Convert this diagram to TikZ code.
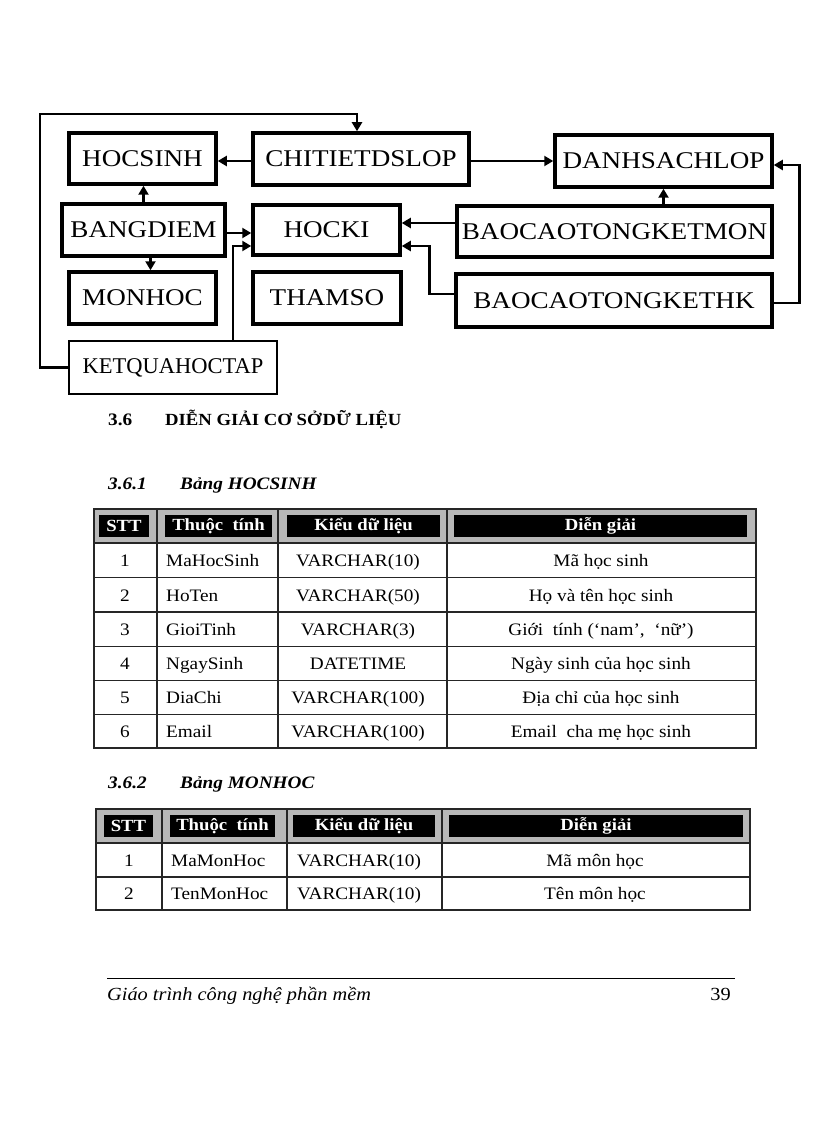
\documentclass[tikz,border=0pt]{standalone}
\usepackage{fontspec}
\setmainfont[FakeStretch=1.1]{Liberation Serif}
\newfontfamily\boxfont[FakeStretch=1.13]{Liberation Serif}
\newfontfamily\narrowfont{Liberation Serif}
\usetikzlibrary{arrows.meta}

\tikzset{
  tbl/.style={draw, line width=3.5pt, inner sep=0pt, font=\boxfont\fontsize{24}{26}\selectfont},
  link/.style={line width=2.8pt, -{Triangle[length=9pt,width=10pt]}},
  hdr/.style={fill=black, text=white, inner sep=0pt, minimum height=22pt, font=\bfseries\fontsize{17}{19}\selectfont},
  cell/.style={inner sep=0pt, anchor=base, font=\fontsize{17.5}{20}\selectfont},
  cellL/.style={cell, anchor=base west},
  grid/.style={line width=1.8pt, black!85},
  head/.style={inner sep=0pt, anchor=base west, font=\bfseries\fontsize{17.5}{20}\selectfont},
}

\begin{document}
\begin{tikzpicture}[x=1pt, y=-1pt]
\useasboundingbox (0,0) rectangle (816,1123);

% tables of the database
\node[tbl, minimum width=147pt, minimum height=51pt] (hocsinh) at (142.5,158.5) {HOCSINH};
\node[tbl, minimum width=216pt, minimum height=52pt] (ctdslop) at (361,159) {CHITIETDSLOP};
\node[tbl, minimum width=217pt, minimum height=52pt] (dslop) at (663.5,161) {DANHSACHLOP};
\node[tbl, minimum width=163pt, minimum height=52pt] (bangdiem) at (143.5,230) {BANGDIEM};
\node[tbl, minimum width=147pt, minimum height=50pt] (hocki) at (326.5,230) {HOCKI};
\node[tbl, minimum width=315pt, minimum height=51pt] (bctkmon) at (614.5,231.5) {BAOCAOTONGKETMON};
\node[tbl, minimum width=147pt, minimum height=52pt] (monhoc) at (142.5,298) {MONHOC};
\node[tbl, minimum width=148pt, minimum height=52pt] (thamso) at (327,298) {THAMSO};
\node[tbl, minimum width=316pt, minimum height=53pt] (bctkhk) at (614,300.5) {BAOCAOTONGKETHK};
\node[tbl, line width=2.5pt, minimum width=208pt, minimum height=53pt, font=\narrowfont\fontsize{22.5}{25}\selectfont] (kqht) at (173,367.5) {KETQUAHOCTAP};

% links
\coordinate (corner) at (40,114);
\draw[link] (kqht.west) -| (corner) -| ([xshift=-4pt]ctdslop.north);
\draw[link] ([yshift=-2pt]ctdslop.west) -- ([yshift=-2pt]ctdslop.west -| hocsinh.east);
\draw[link] ([yshift=-2pt]ctdslop.east) -- ([yshift=-2pt]ctdslop.east -| dslop.west);
\draw[link] (bangdiem.north) -- (bangdiem.north |- hocsinh.south);
\draw[link] ([xshift=7pt]bangdiem.south) -- ([xshift=7pt]bangdiem.south |- monhoc.north);
\draw[link] ([yshift=-3pt]bangdiem.east) -- ([yshift=-3pt]bangdiem.east -| hocki.west);
\draw[link] ([xshift=60pt]kqht.north) |- ([yshift=-16pt]hocki.west);
\draw[link] ([yshift=8.5pt]bctkmon.west) -- ([yshift=8.5pt]bctkmon.west -| hocki.east);
\draw[link] ([yshift=6.5pt]bctkhk.west) -- ++(-25,0) |- ([yshift=-16pt]hocki.east);
\draw[link] (dslop.south |- bctkmon.north) -- (dslop.south);
\draw[link] ([yshift=-2.5pt]bctkhk.east) -- ++(26,0) |- ([yshift=-4pt]dslop.east);

% headings
\node[head] (s36) at (108,425) {3.6};
\node[head, font=\bfseries\fontsize{17}{20}\selectfont] (s36t) at (165,425) {DIỄN GIẢI CƠ SỞ\kern1pt DỮ LIỆU};
\node[head, font=\bfseries\itshape\fontsize{17.5}{20}\selectfont] (s361) at (108,489) {3.6.1};
\node[head, font=\bfseries\itshape\fontsize{17.5}{20}\selectfont] (s361t) at (180,489) {Bảng HOCSINH};
\node[head, font=\bfseries\itshape\fontsize{17.5}{20}\selectfont] (s362) at (108,788) {3.6.2};
\node[head, font=\bfseries\itshape\fontsize{17.5}{20}\selectfont] (s362t) at (180,788) {Bảng MONHOC};

% table HOCSINH
\fill[black!28] (94,509) rectangle (756,543);
\draw[grid] (94,509) rectangle (756,748);
\draw[grid] (94,543) -- (756,543);
\draw[grid] (94,577.5) -- (756,577.5);
\draw[grid] (94,612) -- (756,612);
\draw[grid] (94,646.5) -- (756,646.5);
\draw[grid] (94,680.5) -- (756,680.5);
\draw[grid] (94,714.5) -- (756,714.5);
\draw[grid] (157,509) -- (157,748);
\draw[grid] (278,509) -- (278,748);
\draw[grid] (447,509) -- (447,748);
\node[hdr, minimum width=50pt] (hs-h1) at (124,526) {STT};
\node[hdr, minimum width=107pt] (hs-h2) at (218.5,526) {Thuộc\ \ tính};
\node[hdr, minimum width=153pt] (hs-h3) at (363.5,526) {Kiểu dữ liệu};
\node[hdr, minimum width=293pt] (hs-h4) at (600.5,526) {Diễn giải};
\node[cell] (hs-a1) at (125,566) {1};
\node[cellL] (hs-b1) at (166,566) {MaHocSinh};
\node[cell] (hs-c1) at (358,566) {VARCHAR(10)};
\node[cell] (hs-d1) at (601,566) {Mã học sinh};
\node[cell] (hs-a2) at (125,601) {2};
\node[cellL] (hs-b2) at (166,601) {HoTen};
\node[cell] (hs-c2) at (358,601) {VARCHAR(50)};
\node[cell] (hs-d2) at (601,601) {Họ và tên học sinh};
\node[cell] (hs-a3) at (125,635) {3};
\node[cellL] (hs-b3) at (166,635) {GioiTinh};
\node[cell] (hs-c3) at (358,635) {VARCHAR(3)};
\node[cell] (hs-d3) at (601,635) {Giới\ \ tính (‘nam’,\ \ ‘nữ’)};
\node[cell] (hs-a4) at (125,669.5) {4};
\node[cellL] (hs-b4) at (166,669.5) {NgaySinh};
\node[cell] (hs-c4) at (358,669.5) {DATETIME};
\node[cell] (hs-d4) at (601,669.5) {Ngày sinh của học sinh};
\node[cell] (hs-a5) at (125,703.5) {5};
\node[cellL] (hs-b5) at (166,703.5) {DiaChi};
\node[cell] (hs-c5) at (358,703.5) {VARCHAR(100)};
\node[cell] (hs-d5) at (601,703.5) {Địa chỉ của học sinh};
\node[cell] (hs-a6) at (125,737) {6};
\node[cellL] (hs-b6) at (166,737) {Email};
\node[cell] (hs-c6) at (358,737) {VARCHAR(100)};
\node[cell] (hs-d6) at (601,737) {Email\ \ cha mẹ\ học sinh};

% table MONHOC
\fill[black!28] (96,809) rectangle (750,843);
\draw[grid] (96,809) rectangle (750,910);
\draw[grid] (96,843) -- (750,843);
\draw[grid] (96,877) -- (750,877);
\draw[grid] (162,809) -- (162,910);
\draw[grid] (287,809) -- (287,910);
\draw[grid] (442,809) -- (442,910);
\node[hdr, minimum width=49pt] (mh-h1) at (128.5,826) {STT};
\node[hdr, minimum width=105pt] (mh-h2) at (222.5,826) {Thuộc\ \ tính};
\node[hdr, minimum width=142pt] (mh-h3) at (364,826) {Kiểu dữ liệu};
\node[hdr, minimum width=294pt] (mh-h4) at (596,826) {Diễn giải};
\node[cell] (mh-a1) at (129,866) {1};
\node[cellL] (mh-b1) at (171,866) {MaMonHoc};
\node[cellL] (mh-c1) at (297,866) {VARCHAR(10)};
\node[cell] (mh-d1) at (595,866) {Mã môn học};
\node[cell] (mh-a2) at (129,899.5) {2};
\node[cellL] (mh-b2) at (171,899.5) {TenMonHoc};
\node[cellL] (mh-c2) at (297,899.5) {VARCHAR(10)};
\node[cell] (mh-d2) at (595,899.5) {Tên môn học};

% footer
\draw[line width=1pt] (107,978) -- (735,978);
\node[inner sep=0pt, anchor=base west, font=\itshape\fontsize{18.5}{21}\selectfont] (foot) at (107,1000) {Giáo trình công nghệ phần mềm};
\node[inner sep=0pt, anchor=base east, font=\fontsize{18.5}{21}\selectfont] (page) at (731,1000) {39};
\end{tikzpicture}
\end{document}
